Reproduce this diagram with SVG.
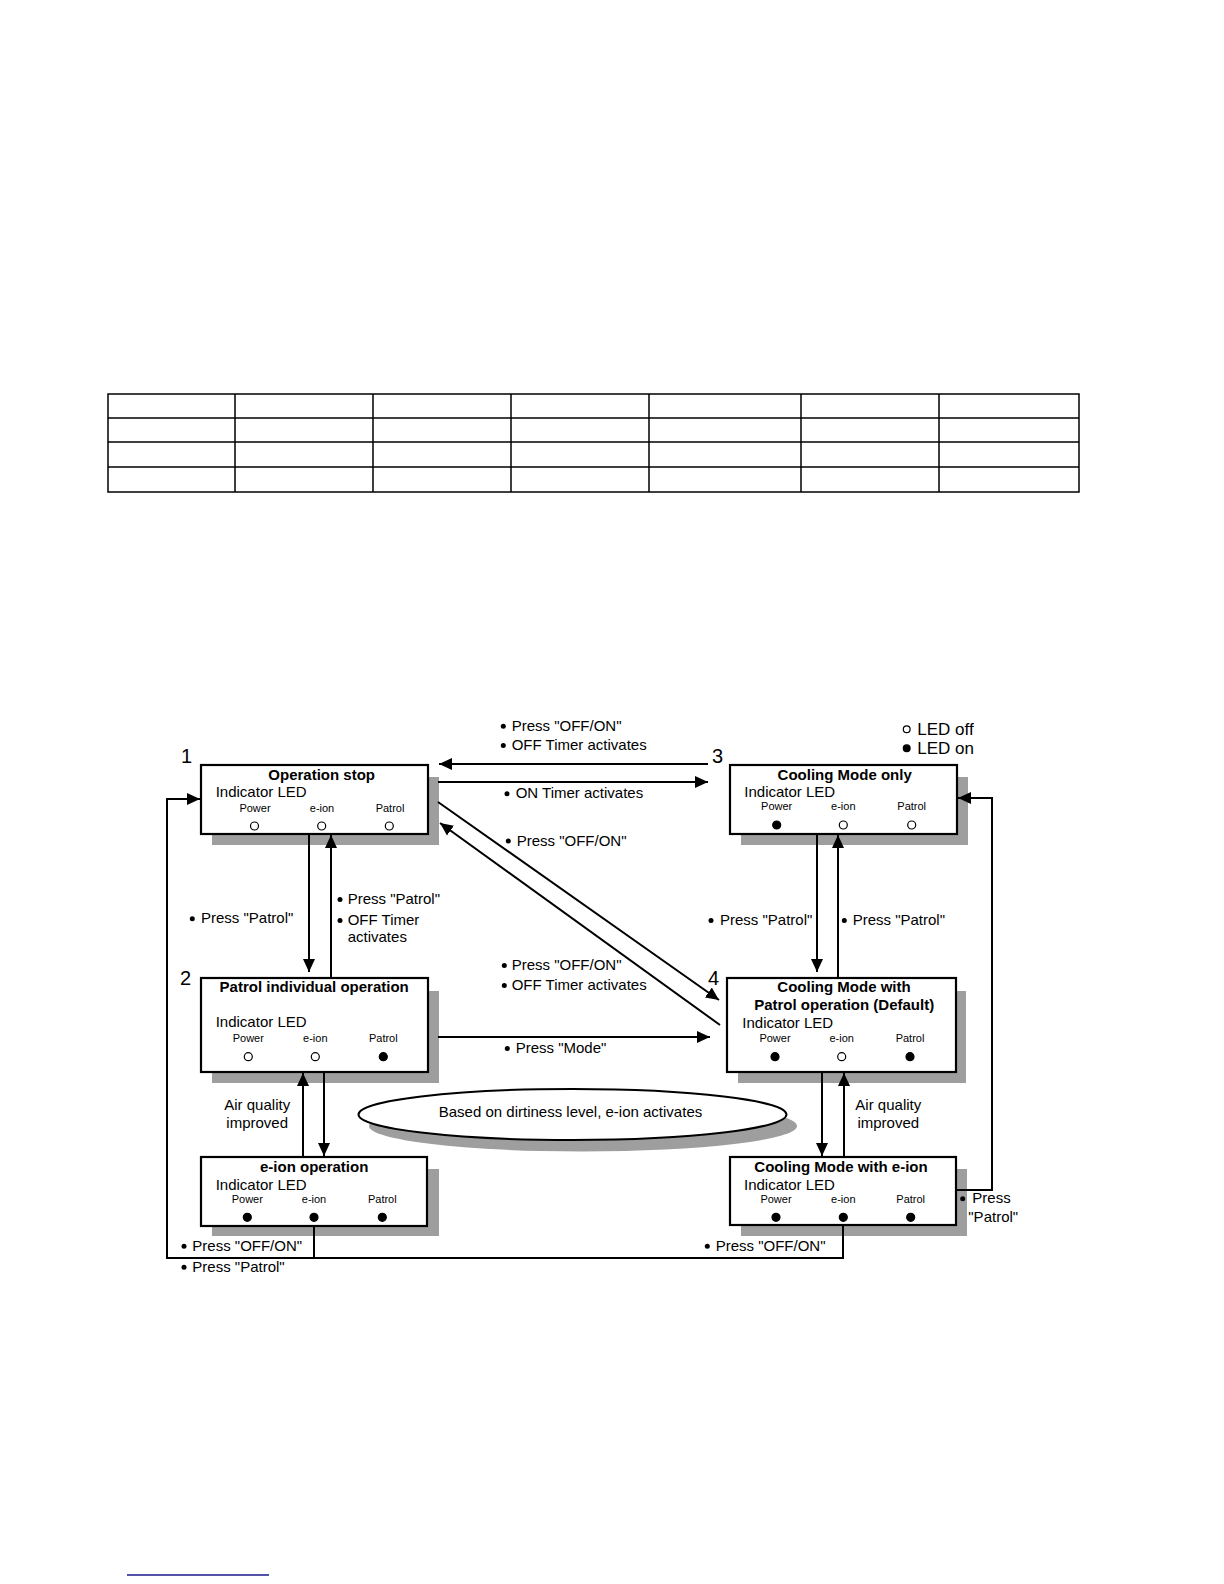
<svg xmlns="http://www.w3.org/2000/svg" width="1224" height="1584" viewBox="0 0 1224 1584">
<style>
  text { font-family: "Liberation Sans", Arial, sans-serif; fill: #000; }
  .t { font-size: 15px; }
  .b { font-size: 15px; font-weight: bold; text-anchor: middle; }
  .s { font-size: 11px; text-anchor: middle; }
  .n { font-size: 20px; }
  .lg { font-size: 17px; }
  .box { fill: #fff; stroke: #000; stroke-width: 2.2; }
  .sh { fill: #9e9e9e; stroke: none; }
  .off { fill: #fff; stroke: #000; stroke-width: 1.2; }
  .on { fill: #000; stroke: #000; stroke-width: 1.2; }
  .c { fill: none; stroke: #000; stroke-width: 2; }
  .tb { fill: none; stroke: #000; stroke-width: 1.5; }
  .bl { fill: #000; }
</style>
<defs>
  <marker id="ah" markerUnits="userSpaceOnUse" markerWidth="14" markerHeight="14" viewBox="0 0 14 14" refX="13" refY="7" orient="auto">
    <path d="M0,1 L13,7 L0,13 Z" fill="#000"/>
  </marker>
</defs>
<rect width="1224" height="1584" fill="#fff"/>

<g id="table">
  <rect class="tb" x="108" y="394" width="971" height="98"/>
  <path class="tb" d="M108 418H1079M108 442H1079M108 467H1079M235 394V492M373 394V492M511 394V492M649 394V492M801 394V492M939 394V492"/>
</g>

<g id="ellipse">
  <ellipse cx="583" cy="1126" rx="214" ry="25.5" fill="#9e9e9e"/>
  <ellipse cx="572.5" cy="1114.5" rx="214" ry="25.5" fill="#fff" stroke="#000" stroke-width="2"/>
  <text class="t" x="570.5" y="1116.7" text-anchor="middle">Based on dirtiness level, e-ion activates</text>
</g>

<g id="node1">
  <rect class="sh" x="212" y="777" width="227" height="68"/>
  <rect class="box" x="201" y="765" width="227" height="69"/>
  <text class="b" x="321.7" y="780">Operation stop</text>
  <text class="t" x="215.7" y="797">Indicator LED</text>
  <text class="s" x="255" y="811.7">Power</text>
  <text class="s" x="322" y="811.7">e-ion</text>
  <text class="s" x="390" y="811.7">Patrol</text>
  <circle class="off" cx="254.5" cy="826" r="4"/>
  <circle class="off" cx="321.7" cy="826" r="4"/>
  <circle class="off" cx="389.3" cy="826" r="4"/>
</g>

<g id="node2">
  <rect class="sh" x="212" y="991" width="227" height="92"/>
  <rect class="box" x="201" y="978" width="227" height="94"/>
  <text class="b" x="314.2" y="991.7">Patrol individual operation</text>
  <text class="t" x="215.7" y="1027.3">Indicator LED</text>
  <text class="s" x="248.3" y="1042.3">Power</text>
  <text class="s" x="315.3" y="1042.3">e-ion</text>
  <text class="s" x="383.3" y="1042.3">Patrol</text>
  <circle class="off" cx="248.3" cy="1056.7" r="4"/>
  <circle class="off" cx="315.3" cy="1056.7" r="4"/>
  <circle class="on" cx="383.3" cy="1056.7" r="4"/>
</g>

<g id="node3">
  <rect class="sh" x="741" y="777" width="227" height="68"/>
  <rect class="box" x="730" y="765" width="227" height="69"/>
  <text class="b" x="844.7" y="780">Cooling Mode only</text>
  <text class="t" x="744.3" y="797">Indicator LED</text>
  <text class="s" x="776.7" y="810">Power</text>
  <text class="s" x="843.3" y="810">e-ion</text>
  <text class="s" x="911.7" y="810">Patrol</text>
  <circle class="on" cx="776.7" cy="825" r="4"/>
  <circle class="off" cx="843.3" cy="825" r="4"/>
  <circle class="off" cx="911.7" cy="825" r="4"/>
</g>

<g id="node4">
  <rect class="sh" x="738" y="991" width="228" height="92"/>
  <rect class="box" x="727" y="978" width="229" height="94"/>
  <text class="b" x="844" y="992.3">Cooling Mode with</text>
  <text class="b" x="844.2" y="1010">Patrol operation (Default)</text>
  <text class="t" x="742.3" y="1027.7">Indicator LED</text>
  <text class="s" x="775" y="1042.3">Power</text>
  <text class="s" x="841.7" y="1042.3">e-ion</text>
  <text class="s" x="910" y="1042.3">Patrol</text>
  <circle class="on" cx="775" cy="1056.7" r="4"/>
  <circle class="off" cx="841.7" cy="1056.7" r="4"/>
  <circle class="on" cx="910" cy="1056.7" r="4"/>
</g>

<g id="node5">
  <rect class="sh" x="212" y="1169" width="227" height="67"/>
  <rect class="box" x="201" y="1157" width="226" height="69"/>
  <text class="b" x="314.2" y="1172.3">e-ion operation</text>
  <text class="t" x="215.7" y="1190">Indicator LED</text>
  <text class="s" x="247.3" y="1202.7">Power</text>
  <text class="s" x="314" y="1202.7">e-ion</text>
  <text class="s" x="382.3" y="1202.7">Patrol</text>
  <circle class="on" cx="247.3" cy="1217.3" r="4"/>
  <circle class="on" cx="314" cy="1217.3" r="4"/>
  <circle class="on" cx="382.3" cy="1217.3" r="4"/>
</g>

<g id="node6">
  <rect class="sh" x="741" y="1169" width="226" height="67"/>
  <rect class="box" x="730" y="1157" width="226" height="68"/>
  <text class="b" x="841" y="1172.3">Cooling Mode with e-ion</text>
  <text class="t" x="744" y="1190">Indicator LED</text>
  <text class="s" x="776" y="1202.7">Power</text>
  <text class="s" x="843.3" y="1202.7">e-ion</text>
  <text class="s" x="910.7" y="1202.7">Patrol</text>
  <circle class="on" cx="776" cy="1217.3" r="4"/>
  <circle class="on" cx="843.3" cy="1217.3" r="4"/>
  <circle class="on" cx="910.7" cy="1217.3" r="4"/>
</g>

<g id="connectors">
  <path class="c" d="M708 764H439" marker-end="url(#ah)"/>
  <path class="c" d="M438 782H708" marker-end="url(#ah)"/>
  <path class="c" d="M438 802L719 1000" marker-end="url(#ah)"/>
  <path class="c" d="M720 1025L440 823" marker-end="url(#ah)"/>
  <path class="c" d="M438 1037H710" marker-end="url(#ah)"/>
  <path class="c" d="M309 835V972" marker-end="url(#ah)"/>
  <path class="c" d="M331 977V835" marker-end="url(#ah)"/>
  <path class="c" d="M817 835V972" marker-end="url(#ah)"/>
  <path class="c" d="M838 977V835" marker-end="url(#ah)"/>
  <path class="c" d="M303 1156V1073" marker-end="url(#ah)"/>
  <path class="c" d="M324 1073V1156" marker-end="url(#ah)"/>
  <path class="c" d="M822 1073V1156" marker-end="url(#ah)"/>
  <path class="c" d="M844 1156V1073" marker-end="url(#ah)"/>
  <path class="c" d="M843 1226V1258H167V799H200" marker-end="url(#ah)"/>
  <path class="c" d="M314 1227V1258"/>
  <path class="c" d="M957 1190H992V798H958" marker-end="url(#ah)"/>
</g>

<g id="labels">
  <circle class="bl" cx="503.3" cy="726.2" r="2.5"/><text class="t" x="511.7" y="730.7">Press "OFF/ON"</text>
  <circle class="bl" cx="503.3" cy="745.5" r="2.5"/><text class="t" x="511.7" y="750">OFF Timer activates</text>
  <circle class="bl" cx="507" cy="793.8" r="2.5"/><text class="t" x="515.7" y="798.3">ON Timer activates</text>
  <circle class="bl" cx="508.3" cy="841" r="2.5"/><text class="t" x="516.7" y="845.5">Press "OFF/ON"</text>
  <circle class="bl" cx="504.3" cy="965.5" r="2.5"/><text class="t" x="511.7" y="970">Press "OFF/ON"</text>
  <circle class="bl" cx="504.3" cy="985.5" r="2.5"/><text class="t" x="511.7" y="990">OFF Timer activates</text>
  <circle class="bl" cx="507.3" cy="1048.5" r="2.5"/><text class="t" x="515.7" y="1053">Press "Mode"</text>
  <circle class="bl" cx="192.3" cy="918.8" r="2.5"/><text class="t" x="201" y="923.3">Press "Patrol"</text>
  <circle class="bl" cx="340" cy="899.5" r="2.5"/><text class="t" x="347.7" y="904">Press "Patrol"</text>
  <circle class="bl" cx="340" cy="920.5" r="2.5"/><text class="t" x="347.7" y="925">OFF Timer</text>
  <text class="t" x="347.7" y="941.7">activates</text>
  <circle class="bl" cx="711" cy="920.5" r="2.5"/><text class="t" x="720" y="925">Press "Patrol"</text>
  <circle class="bl" cx="844.3" cy="920.5" r="2.5"/><text class="t" x="852.7" y="925">Press "Patrol"</text>
  <text class="t" x="257.2" y="1110" text-anchor="middle">Air quality</text>
  <text class="t" x="257.2" y="1128.3" text-anchor="middle">improved</text>
  <text class="t" x="888.3" y="1110" text-anchor="middle">Air quality</text>
  <text class="t" x="888.3" y="1128.3" text-anchor="middle">improved</text>
  <circle class="bl" cx="184" cy="1246.2" r="2.5"/><text class="t" x="192.3" y="1250.7">Press "OFF/ON"</text>
  <circle class="bl" cx="184" cy="1267.2" r="2.5"/><text class="t" x="192.3" y="1271.7">Press "Patrol"</text>
  <circle class="bl" cx="707.3" cy="1246.2" r="2.5"/><text class="t" x="715.7" y="1250.7">Press "OFF/ON"</text>
  <circle class="bl" cx="962.7" cy="1198.8" r="2.5"/><text class="t" x="972.3" y="1203.3">Press</text>
  <text class="t" x="968.3" y="1221.7">"Patrol"</text>
  <text class="n" x="181" y="763">1</text>
  <text class="n" x="180" y="985">2</text>
  <text class="n" x="712" y="763">3</text>
  <text class="n" x="708" y="985">4</text>
</g>

<g id="legend">
  <circle class="off" cx="906.7" cy="729.3" r="3.4"/>
  <text class="lg" x="917.3" y="735">LED off</text>
  <circle class="on" cx="906.7" cy="748.3" r="3.4"/>
  <text class="lg" x="917.3" y="754">LED on</text>
</g>

<path d="M127 1575H269" stroke="#1a1a8c" stroke-width="1.3" fill="none"/>
</svg>
